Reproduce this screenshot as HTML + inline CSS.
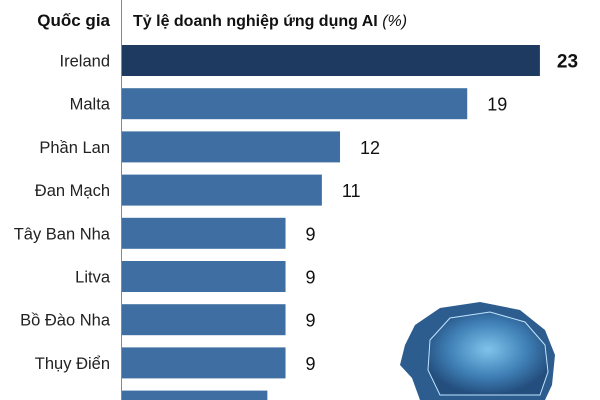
<!DOCTYPE html>
<html><head><meta charset="utf-8"><style>
html,body{margin:0;padding:0;background:#fff;width:600px;height:400px;overflow:hidden;font-family:"Liberation Sans","DejaVu Sans",sans-serif}
svg{display:block;overflow:hidden}
</style></head><body>
<svg id="chart" width="600" height="400">
<defs><radialGradient id="brain" cx="0.5" cy="0.45" r="0.55"><stop offset="0" stop-color="#7fc4ec"/><stop offset="0.6" stop-color="#3f7fb5"/><stop offset="1" stop-color="#244e7e"/></radialGradient></defs>
<g>
<path d="M420,400 L412,378 L400,365 L405,345 L415,325 L440,308 L480,302 L520,310 L545,330 L555,355 L552,385 L545,400 Z" fill="#2d5c8f"/>
<path d="M430,340 L450,318 L490,312 L525,322 L545,345 L548,372 L540,395 L440,395 L428,370 Z" fill="url(#brain)" stroke="#bfe4ff" stroke-width="1"/>
</g>
<text x="110" y="26" text-anchor="end" font-size="17" font-weight="bold" fill="#111">Quốc gia</text>
<text x="133" y="26" font-size="16" font-weight="bold" fill="#111">Tỷ lệ doanh nghiệp ứng dụng AI <tspan font-weight="normal" font-style="italic">(%)</tspan></text>
<line x1="121.5" y1="0" x2="121.5" y2="400" stroke="#888" stroke-width="1"/>
<g id="bars"></g>
</svg>
<script>
const categories=["Ireland","Malta","Phần Lan","Đan Mạch","Tây Ban Nha","Litva","Bồ Đào Nha","Thụy Điển","Italy"];
const values=[23,19,12,11,9,9,9,9,8];
const x0=122, scale=18.17, c0=60.5, pitch=43.2, bh=31;
const xPos=v=>x0+v*scale, yPos=i=>c0+i*pitch;
const g=document.getElementById('bars');
const ns="http://www.w3.org/2000/svg";
categories.forEach((c,i)=>{
 const r=document.createElementNS(ns,'rect');
 r.setAttribute('x',x0);r.setAttribute('y',yPos(i)-bh/2);
 r.setAttribute('width',xPos(values[i])-x0);r.setAttribute('height',bh);
 r.setAttribute('fill',i===0?'#1e3a60':'#3f6fa2');
 
 
 g.appendChild(r);
 const l=document.createElementNS(ns,'text');
 l.setAttribute('x',110);l.setAttribute('y',yPos(i)+6);
 l.setAttribute('text-anchor','end');l.setAttribute('font-size','16.5');l.setAttribute('fill','#222');
 l.textContent=c;
 
 
 g.appendChild(l);
 const t=document.createElementNS(ns,'text');
 t.setAttribute('x',xPos(values[i])+(i===0?17:20));t.setAttribute('y',yPos(i)+7);
 t.setAttribute('font-size',i===0?'19':'18');t.setAttribute('fill','#111');
 if(i===0)t.setAttribute('font-weight','bold');
 t.textContent=values[i];
 
 
 g.appendChild(t);
});
</script>
</body></html>
